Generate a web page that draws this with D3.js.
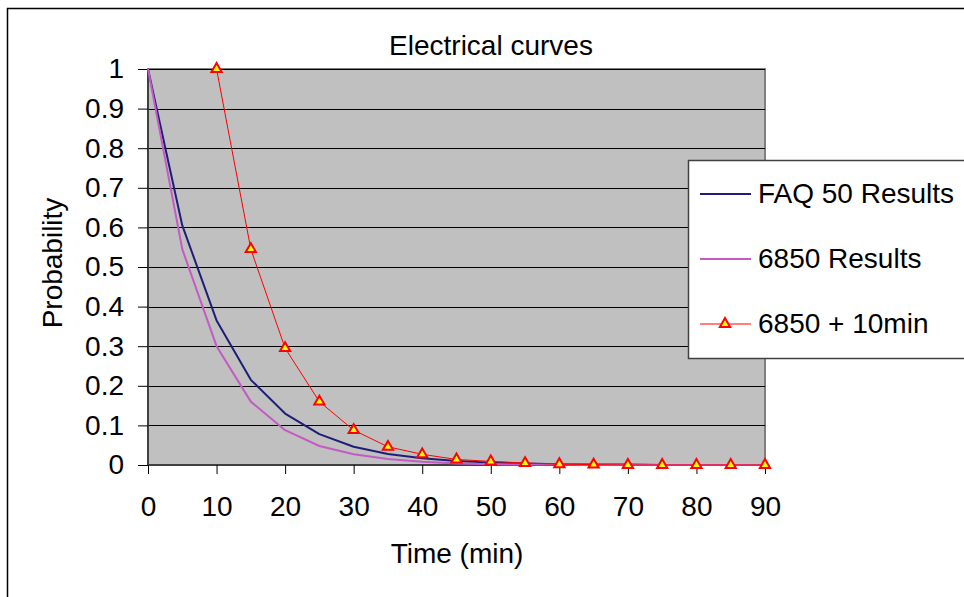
<!DOCTYPE html>
<html>
<head>
<meta charset="utf-8">
<title>Electrical curves</title>
<style>
  body { margin: 0; background: #fff; }
  svg text { font-family: 'Liberation Sans', Arial, sans-serif; fill: #000; }
</style>
<script src="https://d3js.org/d3.v7.min.js"></script>
</head>
<body>
<svg id="chart" width="964" height="597"></svg>
<script>
// values
var time = [0, 5, 10, 15, 20, 25, 30, 35, 40, 45, 50, 55, 60, 65, 70, 75, 80, 85, 90];
var faq50 = [1, 0.605, 0.365, 0.215, 0.13, 0.078, 0.046, 0.028, 0.017, 0.01, 0.006, 0.004, 0.002, 0.001, 0.001, 0, 0, 0, 0];
var res6850 = [1, 0.545, 0.3, 0.16, 0.088, 0.048, 0.027, 0.015, 0.008, 0.004, 0.002, 0.001, 0.001, 0, 0, 0, 0, 0, 0];
var plus10 = [null, null, 1, 0.545, 0.295, 0.16, 0.088, 0.046, 0.027, 0.014, 0.009, 0.005, 0.002, 0.001, 0, 0, 0, 0, 0];
var xTicks = [0, 10, 20, 30, 40, 50, 60, 70, 80, 90];
var yTicks = [0, 0.1, 0.2, 0.3, 0.4, 0.5, 0.6, 0.7, 0.8, 0.9, 1];

var series = [
  { name: "FAQ 50 Results", values: faq50, color: "#1e1e78", width: 2, marker: false },
  { name: "6850 Results", values: res6850, color: "#c45ac4", width: 2, marker: false },
  { name: "6850 + 10min", values: plus10, color: "#ff0000", width: 1, marker: true }
];

var svg = d3.select("#chart");
var pLeft = 148, pRight = 765, pTop = 69, pBottom = 465;
var fontSize = "28px";

var x = d3.scaleLinear().domain([0, 90]).range([pLeft, pRight]);
var y = d3.scaleLinear().domain([0, 1]).range([pBottom, pTop]);

// outer frame
svg.append("rect")
  .attr("x", 7.5).attr("y", 8.5)
  .attr("width", 1000).attr("height", 700)
  .attr("fill", "#fff").attr("stroke", "#000").attr("stroke-width", 1.5);

svg.append("text")
  .attr("x", 491).attr("y", 55)
  .attr("text-anchor", "middle")
  .style("font-size", fontSize)
  .text("Electrical curves");

// plot area
svg.append("rect")
  .attr("x", pLeft).attr("y", pTop)
  .attr("width", pRight - pLeft).attr("height", pBottom - pTop)
  .attr("fill", "#c0c0c0")
  .attr("stroke", "#808080").attr("stroke-width", 2);

svg.append("g")
  .selectAll("line")
  .data(yTicks.slice(1))
  .join("line")
  .attr("x1", pLeft).attr("x2", pRight)
  .attr("y1", d => Math.round(y(d)) + 0.5).attr("y2", d => Math.round(y(d)) + 0.5)
  .attr("stroke", "#000").attr("stroke-width", 1);

// axes
var yAxis = svg.append("g")
  .attr("transform", "translate(" + pLeft + ",0)")
  .call(d3.axisLeft(y).tickValues(yTicks).tickSize(10).tickPadding(14).tickFormat(d3.format("")));
var xAxis = svg.append("g")
  .attr("transform", "translate(0," + pBottom + ")")
  .call(d3.axisBottom(x).tickValues(xTicks).tickSize(9).tickPadding(22));

[xAxis, yAxis].forEach(function (g) {
  g.select(".domain").attr("stroke", "#404040").attr("stroke-width", 2);
  g.selectAll(".tick line").attr("stroke", "#000");
  g.selectAll(".tick text")
    .style("font-size", fontSize)
    .style("font-family", "'Liberation Sans', Arial, sans-serif")
    .attr("fill", "#000");
});
xAxis.select(".domain").attr("d", "M" + pLeft + ",0H" + pRight);
yAxis.select(".domain").attr("d", "M0," + pTop + "V" + pBottom);

svg.append("text")
  .attr("x", 457).attr("y", 563)
  .attr("text-anchor", "middle")
  .style("font-size", fontSize)
  .text("Time (min)");

svg.append("text")
  .attr("transform", "translate(62,263) rotate(-90)")
  .attr("text-anchor", "middle")
  .style("font-size", fontSize)
  .text("Probability");

// lines
var line = d3.line()
  .defined(d => d[1] != null)
  .x(d => x(d[0]))
  .y(d => y(d[1]));

var tri = d3.symbol().type(d3.symbolTriangle).size(45);

series.forEach(function (s) {
  var pts = time.map((t, i) => [t, s.values[i]]);
  svg.append("path")
    .datum(pts)
    .attr("fill", "none")
    .attr("stroke", s.color)
    .attr("stroke-width", s.width)
    .attr("stroke-linejoin", "round")
    .attr("d", line);
  if (s.marker) {
    svg.append("g")
      .selectAll("path")
      .data(pts.filter(d => d[1] != null))
      .join("path")
      .attr("transform", d => "translate(" + x(d[0]) + "," + y(d[1]) + ")")
      .attr("d", tri)
      .attr("fill", "#ffff00")
      .attr("stroke", "#ff0000")
      .attr("stroke-width", 2);
  }
});

// legend
var legend = svg.append("g");
legend.append("rect")
  .attr("x", 688.5).attr("y", 160.5)
  .attr("width", 300).attr("height", 198)
  .attr("fill", "#fff").attr("stroke", "#404040").attr("stroke-width", 1.5);

var rows = legend.selectAll("g.row")
  .data(series)
  .join("g")
  .attr("class", "row")
  .attr("transform", (d, i) => "translate(0," + [194, 259, 324][i] + ")");

rows.append("line")
  .attr("x1", 700).attr("x2", 751)
  .attr("y1", 0).attr("y2", 0)
  .attr("stroke", d => d.color)
  .attr("stroke-width", d => d.width);

rows.filter(d => d.marker)
  .append("path")
  .attr("transform", "translate(725,0)")
  .attr("d", tri)
  .attr("fill", "#ffff00")
  .attr("stroke", "#ff0000")
  .attr("stroke-width", 2);

rows.append("text")
  .attr("x", 758).attr("y", 9)
  .style("font-size", fontSize)
  .text(d => d.name);
</script>
</body>
</html>
